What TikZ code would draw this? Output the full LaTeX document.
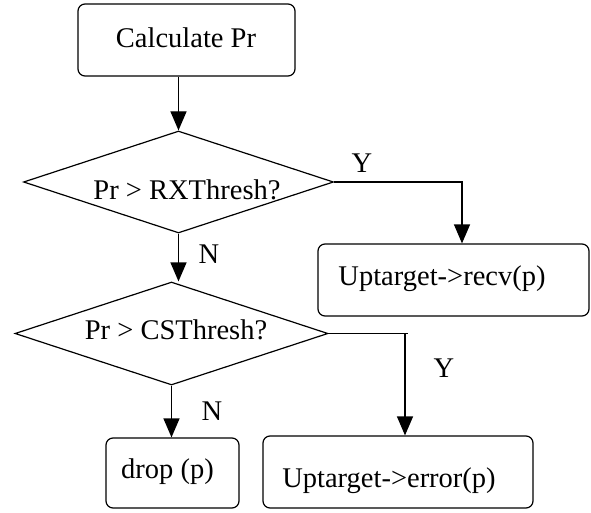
\documentclass[tikz,border=0pt]{standalone}
\usepackage{fontspec}
\setmainfont{Liberation Serif}
\usetikzlibrary{shapes.geometric,arrows.meta}
\begin{document}
\begin{tikzpicture}[x=1pt,y=-1pt,line width=1.2pt,
  every node/.style={font=\fontsize{28.5}{34}\selectfont},
  boxnode/.style={draw,rounded corners=7pt,inner sep=0pt},
  decision/.style={draw,diamond,inner sep=0pt},
  txt/.style={anchor=base,inner sep=0pt},
  arr/.style={-{Triangle[length=19pt,width=16pt]}}]
\useasboundingbox (0,0) rectangle (591,513);
% boxes
\node[boxnode,minimum width=217pt,minimum height=72pt] (calc) at (186.5,40) {};
\node[decision,minimum width=310pt,minimum height=102pt] (d1) at (178.5,182) {};
\node[boxnode,minimum width=271pt,minimum height=72pt] (recv) at (453.5,280) {};
\node[decision,minimum width=313pt,minimum height=103pt] (d2) at (171.5,333.5) {};
\node[boxnode,minimum width=133pt,minimum height=70pt] (drop) at (172.5,473) {};
\node[boxnode,minimum width=270pt,minimum height=72pt] (err) at (398,472) {};
% texts
\node[txt] (tcalc) at (186,48) {Calculate Pr};
\node[txt] (td1) at (187,199.5) {Pr > RXThresh?};
\node[txt] (trecv) at (442,285) {Uptarget->recv(p)};
\node[txt] (td2) at (176,339) {Pr > CSThresh?};
\node[txt] (tdrop) at (167.5,478) {drop (p)};
\node[txt] (terr) at (389,487) {Uptarget->error(p)};
\node[txt] (y1) at (362,172) {Y};
\node[txt] (y2) at (444,377) {Y};
\node[txt] (n1) at (209,263) {N};
\node[txt] (n2) at (212,420) {N};
% connectors
\coordinate (recvtop) at ([xshift=8.5pt]recv.north);
\coordinate (errtop) at ([xshift=7pt]err.north);
\draw[arr] (d1.north |- calc.south) -- (d1.north);
\draw[arr] (d1.east) -| (recvtop);
\draw[arr] (d1.south) -- (d1.south |- d2.north);
\draw[arr] (d2.south) -- (d2.south |- drop.north);
\draw (d2.east) -- ([xshift=3pt]d2.east -| errtop);
\draw[arr] (d2.east -| errtop) -- (errtop);
\end{tikzpicture}
\end{document}
